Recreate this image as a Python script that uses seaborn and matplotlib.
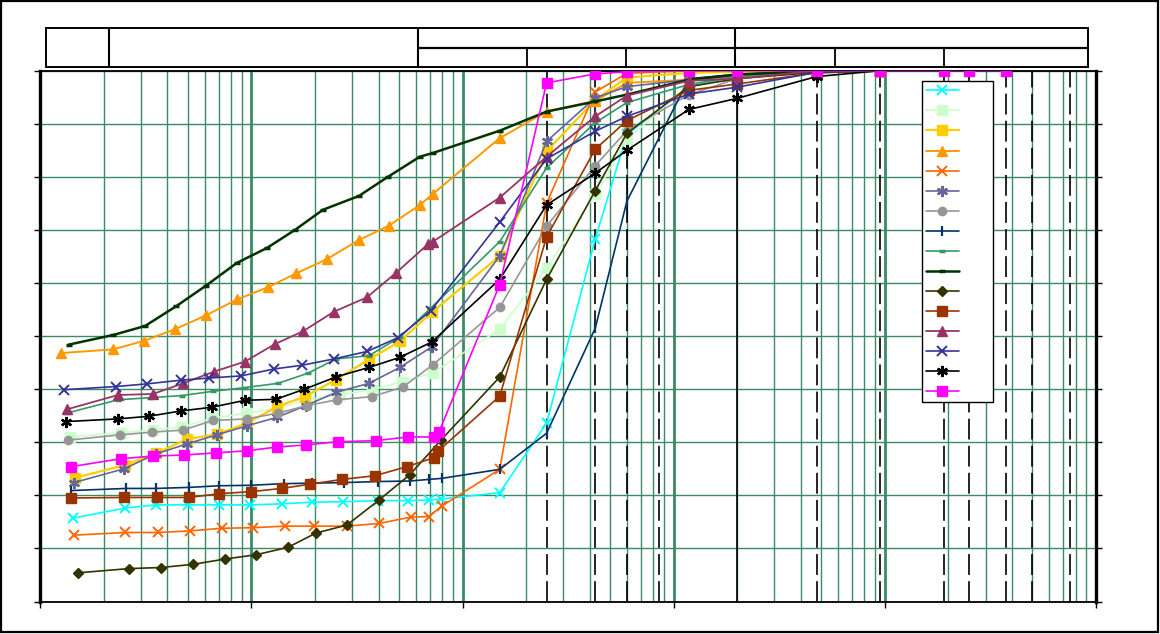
import matplotlib
matplotlib.use("Agg")
from matplotlib import pyplot as plt
from matplotlib.ticker import LogLocator, NullFormatter
import seaborn as sns
import pandas as pd

## sieve sizes (mm) used after the hydrometer readings
sieves = [0.15, 0.25, 0.425, 0.6, 1.18, 2.0, 4.75, 9.5, 19.0, 25.0, 37.5]
## sieve marks drawn as vertical lines on the chart
dashed_sieves = [0.25, 0.425, 0.6, 0.85, 4.75, 9.5, 19.0, 25.0, 37.5, 50.0, 75.0]
solid_sieves = [2.0]

## hydrometer diameters (mm) and % passing (hydrometer + sieves) per test
hyd_1 = [0.001428, 0.002518, 0.00353, 0.005005, 0.007017, 0.009838, 0.01394, 0.01934, 0.02711, 0.03972, 0.05508, 0.06925, 0.07896]
pct_1 = [15.7, 17.6, 18.2, 18.2, 18.2, 18.2, 18.4, 18.7, 18.8, 19.0, 19.0, 19.1, 19.3, 20.5, 33.6, 68.3, 88.0, 97.0, 99.0, 100, 100]
hyd_2 = [0.001382, 0.002411, 0.003417, 0.004688, 0.006501, 0.009522, 0.01335, 0.01831, 0.02624, 0.03721, 0.05159, 0.07236]
pct_2 = [31.0, 31.8, 32.3, 32.9, 34.5, 35.5, 36.4, 38.0, 38.9, 39.9, 41.4, 43.1, 51.3, 62.8, 76.7, 87.0, 97.4, 99.1, 100, 100]
hyd_3 = [0.00146, 0.002518, 0.00353, 0.004951, 0.006865, 0.009522, 0.01321, 0.01792, 0.02512, 0.03601, 0.05048, 0.07157]
pct_3 = [23.3, 25.7, 27.9, 30.6, 31.5, 33.6, 36.7, 38.6, 41.8, 45.6, 49.0, 54.5, 65.1, 84.8, 94.5, 98.7, 99.6, 99.8, 100, 100]
hyd_4 = [0.001253, 0.002209, 0.003097, 0.004343, 0.006089, 0.008539, 0.01197, 0.01625, 0.02278, 0.03228, 0.04477, 0.06276, 0.07236]
pct_4 = [46.8, 47.5, 49.1, 51.3, 53.9, 56.9, 59.2, 61.8, 64.5, 68.1, 70.8, 74.7, 76.8, 87.3, 92.3, 94.3, 97.7, 98.3, 98.9, 99.6, 100]
hyd_5 = [0.001444, 0.002518, 0.003609, 0.005115, 0.00725, 0.01016, 0.01441, 0.01977, 0.02833, 0.04015, 0.0569, 0.06925, 0.07983]
pct_5 = [12.5, 13.0, 13.0, 13.3, 13.8, 13.9, 14.2, 14.2, 14.2, 14.7, 15.9, 16.0, 18.0, 24.9, 75.0, 96.0, 99.5, 100, 100, 100, 100]
hyd_6 = [0.001444, 0.002491, 0.00353, 0.004951, 0.006865, 0.009522, 0.01321, 0.01811, 0.02512, 0.03601, 0.05048, 0.07157]
pct_6 = [22.4, 25.0, 27.8, 29.7, 31.4, 33.1, 34.7, 36.9, 39.4, 41.1, 44.1, 48.0, 65.1, 86.7, 94.9, 97.0, 98.3, 99.0, 100, 100]
hyd_7 = [0.001353, 0.002385, 0.00338, 0.00474, 0.006572, 0.009522, 0.01335, 0.01831, 0.02539, 0.03721, 0.05216, 0.07236]
pct_7 = [30.4, 31.4, 31.9, 32.3, 34.1, 34.4, 35.5, 36.9, 38.0, 38.6, 40.4, 44.6, 55.4, 70.7, 82.1, 88.7, 95.5, 98.5, 100, 100]
hyd_8 = [0.001398, 0.002546, 0.00353, 0.00506, 0.007017, 0.009946, 0.01425, 0.01934, 0.02742, 0.03972, 0.05629, 0.06925, 0.07983]
pct_8 = [20.9, 21.3, 21.3, 21.5, 21.8, 21.9, 22.2, 22.3, 22.4, 22.6, 22.7, 23.0, 23.2, 24.9, 31.7, 51.5, 75.4, 98.5, 99.3, 100, 100]
hyd_9 = [0.001338, 0.002333, 0.003307, 0.004688, 0.006572, 0.009316, 0.01335, 0.01851, 0.02512, 0.03601, 0.05048, 0.07079]
pct_9 = [35.5, 38.0, 38.4, 38.8, 39.6, 40.3, 41.1, 43.0, 45.7, 46.3, 49.8, 55.3, 67.8, 81.7, 90.2, 94.0, 97.4, 98.9, 100, 100]
hyd_10 = [0.001367, 0.002209, 0.003131, 0.004391, 0.006089, 0.008539, 0.01184, 0.01607, 0.02181, 0.03228, 0.04429, 0.06276, 0.07236]
pct_10 = [48.4, 50.2, 51.9, 55.6, 59.5, 63.8, 66.6, 70.0, 73.8, 76.4, 80.0, 83.8, 84.5, 88.7, 92.3, 94.2, 95.5, 98.3, 99.3, 99.9, 100]
hyd_11 = [0.001508, 0.00263, 0.003729, 0.005284, 0.00749, 0.0105, 0.01489, 0.02021, 0.02833, 0.04015, 0.05629, 0.07896]
pct_11 = [5.4, 6.2, 6.4, 7.0, 8.0, 8.8, 10.2, 12.9, 14.4, 19.1, 23.9, 30.4, 42.3, 60.7, 77.4, 88.2, 97.0, 98.5, 99.7, 100]
hyd_12 = [0.001398, 0.002491, 0.003569, 0.00506, 0.007017, 0.009946, 0.01394, 0.01892, 0.02683, 0.03843, 0.05448, 0.07315, 0.07638]
pct_12 = [19.5, 19.6, 19.6, 19.6, 20.3, 20.7, 21.3, 22.1, 23.0, 23.7, 25.4, 27.1, 28.3, 38.7, 68.7, 85.2, 90.6, 96.3, 97.5, 99.6, 100]
hyd_13 = [0.001338, 0.002333, 0.003417, 0.00474, 0.006644, 0.009316, 0.01292, 0.01753, 0.02458, 0.03524, 0.04833, 0.0685, 0.07236]
pct_13 = [36.2, 38.9, 39.1, 41.1, 43.3, 45.2, 48.5, 50.9, 54.6, 57.3, 61.9, 67.3, 67.8, 76.1, 83.8, 91.4, 95.3, 98.1, 98.5, 100, 100]
hyd_14 = [0.001295, 0.002283, 0.0032, 0.004637, 0.006291, 0.008919, 0.01278, 0.01734, 0.02458, 0.03524, 0.0494, 0.07079]
pct_14 = [39.9, 40.5, 41.0, 41.7, 42.1, 42.5, 43.8, 44.5, 45.7, 47.1, 49.7, 54.8, 71.5, 83.4, 88.6, 91.4, 95.6, 96.9, 99.7, 100]
hyd_15 = [0.001323, 0.002333, 0.003271, 0.004637, 0.006501, 0.009316, 0.01306, 0.01782, 0.02512, 0.03601, 0.05048, 0.07157]
pct_15 = [33.9, 34.4, 34.9, 35.9, 36.6, 37.9, 38.1, 40.0, 42.3, 44.1, 46.0, 48.9, 60.7, 74.7, 80.7, 85.0, 92.7, 94.8, 98.9, 100]
hyd_16 = [0.001398, 0.002411, 0.003417, 0.004792, 0.006791, 0.009522, 0.01321, 0.01811, 0.02568, 0.03886, 0.05508, 0.07315, 0.07725]
pct_16 = [25.4, 26.9, 27.4, 27.6, 28.0, 28.4, 29.1, 29.5, 30.1, 30.3, 31.0, 31.0, 31.9, 59.7, 97.7, 99.4, 99.8, 100, 100, 100, 100, 100, 100, 100]

series = [(hyd_1, pct_1), (hyd_2, pct_2), (hyd_3, pct_3), (hyd_4, pct_4),
          (hyd_5, pct_5), (hyd_6, pct_6), (hyd_7, pct_7), (hyd_8, pct_8),
          (hyd_9, pct_9), (hyd_10, pct_10), (hyd_11, pct_11), (hyd_12, pct_12),
          (hyd_13, pct_13), (hyd_14, pct_14), (hyd_15, pct_15), (hyd_16, pct_16)]

## excel-like styles
star = (6, 2, 0)
colors = ["#00FFFF", "#CCFFCC", "#FFCC00", "#FF9900", "#FF6600", "#666699", "#969696", "#003366",
          "#339966", "#003300", "#333300", "#993300", "#993366", "#333399", "#000000", "#FF00FF"]
markers = ["x", "s", "s", "^", "x", star, "o", "|", "_", "_", "D", "s", "^", "x", star, "s"]
msizes = [6.5, 6.5, 6.5, 7, 6.5, 8, 6, 6.5, 4, 4, 5.5, 6.5, 7, 6.5, 8, 6.5]
mews = [1.4, 1, 1, 1, 1.4, 1.6, 1, 1.6, 2.5, 2.5, 1, 1, 1, 1.4, 1.7, 1]
lwidths = [1.2, 1.2, 1.6, 1.4, 1.2, 1.2, 1.2, 1.2, 1.2, 1.8, 1.2, 1.2, 1.3, 1.2, 1.2, 1.2]

grid_green = "#3A8A66"

sns.set_style("white")
plt.rcParams["lines.scale_dashes"] = False

fig = plt.figure(figsize=(11.6, 6.34), dpi=100)

## page frame and the (empty) soil classification header
frame = fig.add_axes([0, 0, 1, 1])
frame.set_xlim(0, 1160); frame.set_ylim(634, 0); frame.axis("off")
frame.add_patch(plt.Rectangle((1, 1), 1157, 631, fill=False, lw=1.6, ec="black"))
frame.add_patch(plt.Rectangle((46, 28), 1042, 39, fill=False, lw=1.4, ec="black"))
frame.vlines([109, 418, 735], 28, 67, color="black", lw=1.5)
frame.hlines(48, 418, 1088, color="black", lw=1.6)
frame.vlines([527, 626, 835, 944], 48, 67, color="black", lw=1.3)

ax = fig.add_axes([40.3 / 1160, 1 - 601.5 / 634, (1096 - 40.3) / 1160, (601.5 - 70.7) / 634])
ax.set_xscale("log")

handles = []
for i, (d, p) in enumerate(series):
    df = pd.DataFrame({"d": d + sieves[:len(p) - len(d)], "p": p})
    sns.lineplot(data=df, x="d", y="p", ax=ax, sort=False, estimator=None,
                 color=colors[i], lw=lwidths[i], marker=markers[i], markersize=msizes[i],
                 markeredgewidth=mews[i], markeredgecolor=colors[i], markerfacecolor=colors[i],
                 zorder=3 + i)
    handles.append(ax.lines[-1])

for s in dashed_sieves:
    ax.axvline(s, color="black", lw=1.2, dashes=(15, 4.5), zorder=2)
for s in solid_sieves:
    ax.axvline(s, color="black", lw=1.2, zorder=2)

ax.set_xlim(0.001, 100)
ax.set_ylim(0, 100)
ax.set_yticks(range(0, 101, 10))
ax.xaxis.set_major_locator(LogLocator(base=10))
ax.xaxis.set_minor_locator(LogLocator(base=10, subs=range(2, 10)))
ax.xaxis.set_minor_formatter(NullFormatter())
ax.set_axisbelow(True)
ax.grid(which="major", axis="x", color=grid_green, lw=2)
ax.grid(which="minor", axis="x", color=grid_green, lw=1)
ax.grid(which="major", axis="y", color=grid_green, lw=1)
ax.tick_params(labelbottom=False, labelleft=False)
ax.tick_params(axis="y", which="major", direction="out", length=4, width=1, left=True, right=True, color="black")
ax.tick_params(axis="x", which="major", direction="out", length=4, width=1, bottom=True, color="black")
ax.tick_params(axis="x", which="minor", length=0)
ax.set_xlabel("")
ax.set_ylabel("")
for side, sp in ax.spines.items():
    sp.set_color("black")
    sp.set_linewidth(2.4 if side in ("left", "right") else 1.3)

leg = ax.legend(handles, [""] * len(handles), loc="upper left", bbox_to_anchor=(0.835, 0.9806),
                borderaxespad=0, fontsize=9, handlelength=2.7, handletextpad=2.4,
                labelspacing=0.565, borderpad=0.3, frameon=True, fancybox=False,
                edgecolor="black", framealpha=1)
leg.get_frame().set_linewidth(1)
leg.set_zorder(30)

fig.savefig("out.png", dpi=100)
